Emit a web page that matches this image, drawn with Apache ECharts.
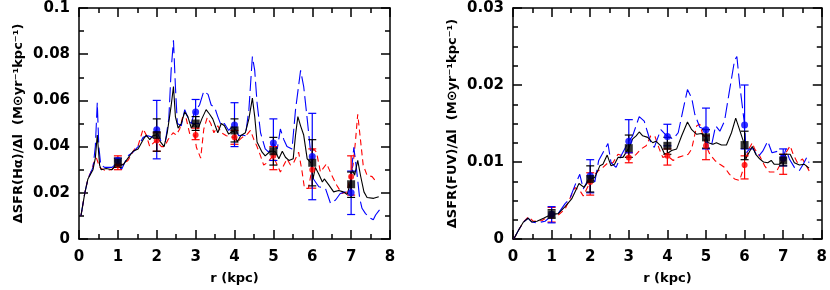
<!DOCTYPE html>
<html><head><meta charset="utf-8">
<script src="https://cdn.jsdelivr.net/npm/echarts@6/dist/echarts.min.js"></script>
<style>html,body{margin:0;padding:0;background:#fff}#c{width:830px;height:290px}</style>
</head><body><div id="c"></div>
<script>
// ---------- data: left panel (Hα) ----------
const haTotal = [[0.05,0.010],[0.15,0.020],[0.23,0.026],[0.36,0.030],[0.42,0.035],[0.47,0.045],[0.53,0.032],[0.57,0.030],[0.7,0.0305],[0.85,0.030],[0.99,0.033],[1.13,0.032],[1.26,0.035],[1.39,0.038],[1.52,0.039],[1.65,0.043],[1.73,0.045],[1.82,0.043],[1.9,0.0447],[1.98,0.045],[2.07,0.0426],[2.19,0.040],[2.27,0.046],[2.37,0.0576],[2.43,0.066],[2.48,0.053],[2.55,0.048],[2.63,0.050],[2.72,0.055],[2.8,0.053],[2.89,0.048],[2.97,0.050],[3.06,0.0476],[3.16,0.052],[3.27,0.056],[3.36,0.054],[3.44,0.052],[3.57,0.046],[3.66,0.050],[3.74,0.049],[3.85,0.0454],[3.98,0.047],[4.07,0.042],[4.16,0.0447],[4.28,0.046],[4.37,0.052],[4.46,0.061],[4.52,0.053],[4.58,0.042],[4.71,0.0376],[4.79,0.036],[4.92,0.038],[4.99,0.038],[5.06,0.0376],[5.14,0.0347],[5.23,0.038],[5.31,0.0354],[5.4,0.034],[5.51,0.0347],[5.57,0.045],[5.63,0.053],[5.7,0.049],[5.78,0.045],[5.87,0.0347],[5.97,0.033],[6.02,0.026],[6.08,0.031],[6.17,0.028],[6.26,0.0247],[6.31,0.026],[6.43,0.0233],[6.55,0.0204],[6.68,0.021],[6.8,0.0204],[6.9,0.0193],[6.97,0.0237],[7.03,0.030],[7.09,0.0276],[7.17,0.034],[7.24,0.0276],[7.33,0.0204],[7.41,0.018],[7.58,0.0176],[7.71,0.0183]];
const haBlue = [[0.05,0.010],[0.15,0.020],[0.23,0.026],[0.36,0.031],[0.42,0.040],[0.47,0.059],[0.51,0.040],[0.56,0.032],[0.66,0.031],[0.85,0.031],[0.99,0.033],[1.09,0.030],[1.26,0.036],[1.39,0.0376],[1.52,0.040],[1.65,0.044],[1.77,0.0447],[1.9,0.044],[1.98,0.0473],[2.12,0.042],[2.22,0.042],[2.31,0.052],[2.37,0.073],[2.43,0.086],[2.48,0.066],[2.53,0.050],[2.63,0.049],[2.72,0.056],[2.8,0.0526],[2.89,0.050],[2.97,0.055],[3.1,0.058],[3.21,0.064],[3.32,0.0626],[3.4,0.058],[3.49,0.057],[3.57,0.053],[3.66,0.049],[3.74,0.050],[3.85,0.047],[3.98,0.0493],[4.02,0.0476],[4.11,0.0447],[4.2,0.045],[4.28,0.0447],[4.37,0.056],[4.46,0.079],[4.52,0.073],[4.58,0.059],[4.67,0.046],[4.79,0.039],[4.88,0.0376],[4.99,0.0416],[5.1,0.039],[5.18,0.0476],[5.27,0.043],[5.35,0.040],[5.48,0.039],[5.57,0.056],[5.7,0.073],[5.78,0.066],[5.87,0.052],[5.97,0.0357],[6.03,0.026],[6.17,0.0226],[6.34,0.0219],[6.47,0.0154],[6.6,0.0169],[6.72,0.0197],[6.85,0.0204],[6.97,0.020],[7.03,0.033],[7.07,0.0397],[7.14,0.030],[7.22,0.0176],[7.28,0.0133],[7.37,0.011],[7.5,0.009],[7.57,0.0083],[7.63,0.0104],[7.73,0.0126]];
const haRed = [[0.05,0.010],[0.15,0.020],[0.23,0.026],[0.33,0.030],[0.4,0.034],[0.45,0.035],[0.53,0.031],[0.66,0.0297],[0.83,0.030],[0.99,0.032],[1.09,0.032],[1.26,0.034],[1.43,0.039],[1.52,0.0404],[1.65,0.0476],[1.73,0.045],[1.82,0.040],[1.98,0.0426],[2.12,0.040],[2.2,0.040],[2.29,0.043],[2.42,0.046],[2.5,0.045],[2.59,0.0476],[2.67,0.053],[2.76,0.052],[2.85,0.0454],[2.97,0.045],[3.02,0.0397],[3.13,0.035],[3.21,0.0476],[3.3,0.0526],[3.39,0.050],[3.47,0.046],[3.57,0.049],[3.66,0.046],[3.79,0.0447],[3.98,0.044],[4.07,0.042],[4.2,0.044],[4.33,0.0454],[4.41,0.047],[4.5,0.043],[4.58,0.040],[4.67,0.036],[4.75,0.032],[4.84,0.033],[4.99,0.036],[5.1,0.032],[5.18,0.029],[5.27,0.032],[5.35,0.0347],[5.44,0.032],[5.52,0.033],[5.65,0.0376],[5.74,0.029],[5.8,0.0219],[5.9,0.0219],[5.99,0.030],[6.03,0.039],[6.11,0.0376],[6.21,0.029],[6.37,0.0326],[6.5,0.0276],[6.63,0.0233],[6.76,0.0197],[6.9,0.0204],[6.97,0.027],[7.05,0.032],[7.11,0.042],[7.17,0.054],[7.24,0.043],[7.31,0.032],[7.41,0.0276],[7.54,0.027],[7.65,0.0247]];

const binR = [1,2,3,4,5,6,7];
const haTotalPt = [0.033,0.045,0.050,0.047,0.038,0.033,0.0237];
const haTotalLo = [0.031,0.038,0.047,0.042,0.032,0.023,0.018];
const haTotalHi = [0.035,0.052,0.053,0.052,0.044,0.043,0.029];
const haBluePt = [0.034,0.0473,0.055,0.0493,0.0416,0.0357,0.020];
const haBlueLo = [0.032,0.0347,0.050,0.040,0.034,0.017,0.0106];
const haBlueHi = [0.035,0.060,0.0604,0.059,0.052,0.0544,0.0294];
const haRedPt = [0.032,0.0426,0.045,0.044,0.036,0.030,0.027];
const haRedLo = [0.030,0.038,0.043,0.041,0.030,0.022,0.019];
const haRedHi = [0.036,0.046,0.048,0.047,0.040,0.039,0.036];

// ---------- data: right panel (FUV) ----------
const fuvTotal = [[0.02,0.0],[0.15,0.0012],[0.27,0.0022],[0.39,0.0027],[0.49,0.0022],[0.62,0.0023],[0.79,0.0027],[1.0,0.0032],[1.17,0.0033],[1.35,0.0042],[1.52,0.0052],[1.71,0.0072],[1.84,0.0067],[2.0,0.0078],[2.12,0.0080],[2.25,0.0095],[2.33,0.0097],[2.44,0.0109],[2.54,0.0095],[2.63,0.0097],[2.72,0.0106],[2.85,0.0106],[3.0,0.0118],[3.1,0.0130],[3.19,0.0134],[3.27,0.0139],[3.36,0.0134],[3.49,0.0132],[3.62,0.0125],[3.7,0.0127],[3.83,0.0121],[3.92,0.0111],[4.0,0.0111],[4.11,0.0115],[4.24,0.0117],[4.37,0.0134],[4.52,0.0152],[4.63,0.0142],[4.76,0.0136],[4.88,0.0137],[5.0,0.0132],[5.06,0.0125],[5.18,0.0123],[5.27,0.0125],[5.4,0.0122],[5.53,0.0122],[5.66,0.0138],[5.77,0.0157],[5.85,0.0145],[6.0,0.0122],[6.03,0.0104],[6.09,0.0110],[6.2,0.0120],[6.29,0.0110],[6.39,0.0104],[6.49,0.0100],[6.6,0.0099],[6.69,0.0102],[6.77,0.0097],[6.9,0.0097],[7.0,0.0102],[7.07,0.0110],[7.18,0.0110],[7.29,0.0099],[7.42,0.0096],[7.55,0.0097],[7.67,0.0092]];
const fuvBlue = [[0.02,0.0],[0.15,0.0012],[0.27,0.0022],[0.39,0.0027],[0.49,0.0022],[0.62,0.0021],[0.83,0.0023],[1.0,0.0030],[1.17,0.0033],[1.35,0.0046],[1.47,0.0052],[1.6,0.0069],[1.73,0.0084],[1.82,0.0065],[2.0,0.0082],[2.12,0.0074],[2.22,0.0102],[2.33,0.0112],[2.46,0.0124],[2.54,0.0099],[2.67,0.0093],[2.8,0.0108],[3.0,0.0127],[3.1,0.0134],[3.27,0.0159],[3.4,0.0153],[3.49,0.0138],[3.57,0.0125],[3.66,0.0119],[3.74,0.0130],[3.83,0.0142],[4.0,0.0133],[4.15,0.0130],[4.28,0.0138],[4.39,0.0164],[4.52,0.0194],[4.63,0.0183],[4.71,0.0162],[4.84,0.0145],[5.0,0.0142],[5.06,0.0117],[5.14,0.0121],[5.25,0.0147],[5.36,0.0140],[5.48,0.0153],[5.6,0.0190],[5.74,0.0232],[5.8,0.0237],[5.87,0.0202],[6.0,0.0148],[6.04,0.0112],[6.13,0.0117],[6.23,0.0117],[6.34,0.0106],[6.47,0.0114],[6.6,0.0127],[6.71,0.0112],[6.86,0.0114],[7.0,0.0105],[7.07,0.0117],[7.16,0.0104],[7.29,0.0093],[7.42,0.0089],[7.52,0.0097],[7.61,0.0106],[7.67,0.0099]];
const fuvRed = [[0.02,0.0],[0.15,0.0012],[0.27,0.0022],[0.4,0.0029],[0.53,0.0023],[0.75,0.0024],[0.92,0.0029],[1.0,0.0031],[1.17,0.0031],[1.35,0.0039],[1.47,0.0052],[1.6,0.0067],[1.73,0.0063],[1.82,0.0056],[2.0,0.0074],[2.12,0.0084],[2.22,0.0089],[2.33,0.0093],[2.46,0.0099],[2.59,0.0099],[2.72,0.0110],[2.85,0.0108],[3.0,0.0106],[3.1,0.0106],[3.19,0.0110],[3.32,0.0117],[3.45,0.0121],[3.57,0.0134],[3.68,0.0133],[3.79,0.0117],[3.88,0.0106],[4.0,0.0108],[4.15,0.0102],[4.28,0.0106],[4.41,0.0108],[4.54,0.0110],[4.63,0.0117],[4.76,0.0147],[4.84,0.0149],[5.0,0.0121],[5.1,0.0110],[5.23,0.0102],[5.36,0.0097],[5.48,0.0093],[5.61,0.0084],[5.74,0.0078],[5.87,0.0076],[6.0,0.0096],[6.09,0.0115],[6.2,0.0125],[6.26,0.0117],[6.39,0.0108],[6.52,0.0095],[6.64,0.0087],[6.82,0.0087],[7.0,0.0104],[7.07,0.0112],[7.18,0.0121],[7.26,0.0110],[7.37,0.0099],[7.5,0.0104],[7.58,0.0097],[7.69,0.0087]];

const fuvTotalPt = [0.0032,0.0078,0.0118,0.0121,0.0132,0.0122,0.0102];
const fuvTotalLo = [0.0027,0.0061,0.0106,0.0110,0.0118,0.0103,0.0095];
const fuvTotalHi = [0.0038,0.0095,0.0135,0.0132,0.0142,0.0140,0.0110];
const fuvBluePt = [0.0032,0.0082,0.0127,0.0133,0.0142,0.0148,0.0105];
const fuvBlueLo = [0.0021,0.0060,0.0112,0.0121,0.0117,0.0117,0.0095];
const fuvBlueHi = [0.0042,0.0103,0.0155,0.0149,0.0170,0.0200,0.0117];
const fuvRedPt = [0.0031,0.0074,0.0106,0.0108,0.0121,0.0096,0.0104];
const fuvRedLo = [0.0022,0.0057,0.0099,0.0096,0.0103,0.0078,0.0084];
const fuvRedHi = [0.0041,0.0086,0.0112,0.0117,0.0134,0.0108,0.0110];

const xTicks = [0,1,2,3,4,5,6,7,8];

// ---------- chart ----------
const FONT = 'DejaVu Sans';
const BLACK = '#000000', BLUE = '#0000ff', RED = '#ff0000';

function xAx(grid, pos, showLabel, name) {
  return {
    type: 'value', gridIndex: grid, position: pos, min: xTicks[0], max: xTicks[xTicks.length-1], interval: 1,
    axisLine: {show: true, onZero: false, lineStyle: {color: BLACK, width: 1.5}},
    axisTick: {show: true, inside: true, length: 9, lineStyle: {color: BLACK, width: 1.5}},
    minorTick: {show: true, splitNumber: 2, length: 5, lineStyle: {color: BLACK, width: 1.5}},
    splitLine: {show: false}, minorSplitLine: {show: false},
    axisLabel: {show: showLabel, color: BLACK, fontFamily: FONT, fontWeight: 'bold', fontSize: 15, margin: 11},
    name: name || '', nameLocation: 'middle', nameGap: 33,
    nameTextStyle: {color: BLACK, fontFamily: FONT, fontWeight: 'bold', fontSize: 13}
  };
}
function yAx(grid, pos, showLabel, max, interval, minorSplit, name) {
  return {
    type: 'value', gridIndex: grid, position: pos, min: 0, max: max, interval: interval,
    axisLine: {show: true, onZero: false, lineStyle: {color: BLACK, width: 1.5}},
    axisTick: {show: true, inside: true, length: 9, lineStyle: {color: BLACK, width: 1.5}},
    minorTick: {show: true, splitNumber: minorSplit, length: 5, lineStyle: {color: BLACK, width: 1.5}},
    splitLine: {show: false}, minorSplitLine: {show: false},
    axisLabel: {show: showLabel, color: BLACK, fontFamily: FONT, fontWeight: 'bold', fontSize: 15, margin: 9,
      formatter: v => String(+v.toFixed(4))},
    name: name || '', nameLocation: 'middle', nameGap: 54, nameRotate: 90,
    nameTextStyle: {color: BLACK, fontFamily: FONT, fontWeight: 'bold', fontSize: 13}
  };
}

function curve(data, color, dash, xi, yi, z) {
  return {type: 'line', data: data, xAxisIndex: xi, yAxisIndex: yi, symbol: 'none', smooth: false,
    lineStyle: {color: color, width: 1.1, type: dash}, z: z, silent: true, animation: false};
}
function errBars(pt, lo, hi, color, xi, yi, z) {
  const d = binR.map((r, i) => [r, pt[i], lo[i], hi[i]]);
  return {type: 'custom', xAxisIndex: xi, yAxisIndex: yi, z: z, silent: true, animation: false,
    data: d,
    renderItem: (params, api) => {
      const top = api.coord([api.value(0), api.value(3)]);
      const bot = api.coord([api.value(0), api.value(2)]);
      const hw = 4;
      const st = {stroke: color, lineWidth: 1.2};
      return {type: 'group', children: [
        {type: 'line', shape: {x1: top[0], y1: top[1], x2: bot[0], y2: bot[1]}, style: st},
        {type: 'line', shape: {x1: top[0]-hw, y1: top[1], x2: top[0]+hw, y2: top[1]}, style: st},
        {type: 'line', shape: {x1: bot[0]-hw, y1: bot[1], x2: bot[0]+hw, y2: bot[1]}, style: st}
      ]};
    }};
}
function pts(pt, color, symbol, size, xi, yi, z) {
  return {type: 'scatter', xAxisIndex: xi, yAxisIndex: yi, z: z, silent: true, animation: false,
    data: binR.map((r, i) => [r, pt[i]]), symbol: symbol, symbolSize: size, itemStyle: {color: color}};
}

const yNameHa = 'ΔSFR(Hα)/Δl  (M⊙yr⁻¹kpc⁻¹)';
const yNameFuv = 'ΔSFR(FUV)/Δl  (M⊙yr⁻¹kpc⁻¹)';

const option = {
  backgroundColor: '#ffffff',
  animation: false,
  grid: [
    {left: 79, right: 440, top: 8, bottom: 49},
    {left: 513, right: 5, top: 8, bottom: 49}
  ],
  xAxis: [
    xAx(0, 'bottom', true, 'r (kpc)'), xAx(0, 'top', false),
    xAx(1, 'bottom', true, 'r (kpc)'), xAx(1, 'top', false)
  ],
  yAxis: [
    yAx(0, 'left', true, 0.1, 0.02, 2, yNameHa), yAx(0, 'right', false, 0.1, 0.02, 2),
    yAx(1, 'left', true, 0.03, 0.01, 4, yNameFuv), yAx(1, 'right', false, 0.03, 0.01, 4)
  ],
  series: [
    curve(haRed, RED, [6,4], 0, 0, 2),
    curve(haBlue, BLUE, [15,5], 0, 0, 3),
    curve(haTotal, BLACK, 'solid', 0, 0, 4),
    errBars(haRedPt, haRedLo, haRedHi, RED, 0, 0, 5),
    errBars(haBluePt, haBlueLo, haBlueHi, BLUE, 0, 0, 6),
    errBars(haTotalPt, haTotalLo, haTotalHi, BLACK, 0, 0, 7),
    pts(haRedPt, RED, 'circle', 6, 0, 0, 8),
    pts(haBluePt, BLUE, 'circle', 7, 0, 0, 9),
    pts(haTotalPt, BLACK, 'rect', 8, 0, 0, 10),

    curve(fuvRed, RED, [6,4], 2, 2, 2),
    curve(fuvBlue, BLUE, [15,5], 2, 2, 3),
    curve(fuvTotal, BLACK, 'solid', 2, 2, 4),
    errBars(fuvRedPt, fuvRedLo, fuvRedHi, RED, 2, 2, 5),
    errBars(fuvBluePt, fuvBlueLo, fuvBlueHi, BLUE, 2, 2, 6),
    errBars(fuvTotalPt, fuvTotalLo, fuvTotalHi, BLACK, 2, 2, 7),
    pts(fuvRedPt, RED, 'circle', 6, 2, 2, 8),
    pts(fuvBluePt, BLUE, 'circle', 7, 2, 2, 9),
    pts(fuvTotalPt, BLACK, 'rect', 8, 2, 2, 10)
  ]
};
const chart = echarts.init(document.getElementById('c'), null, {renderer: 'canvas'});
chart.setOption(option);
</script></body></html>
